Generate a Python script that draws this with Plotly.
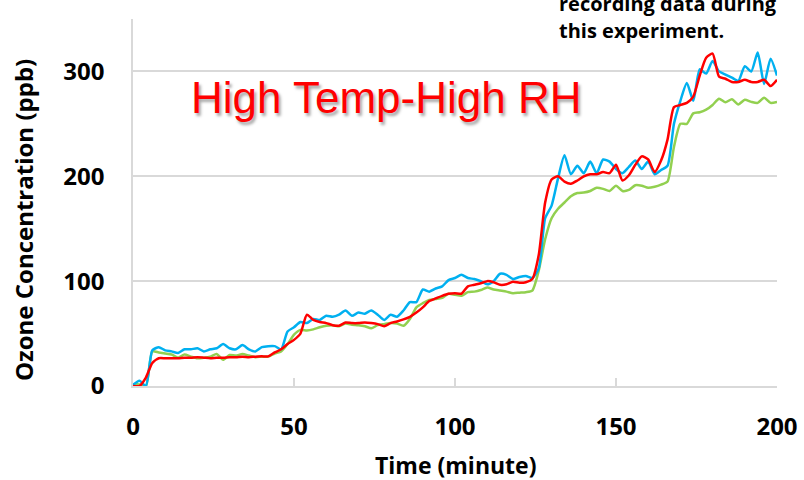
import plotly.graph_objects as go

time_min = list(range(0, 201, 2))

blue_ppb = [1, 5, 0, 34, 37, 34, 33, 31.5, 35, 35, 36, 33, 35, 36, 40, 36, 35, 39, 35, 33,
            37, 38, 38, 35, 52, 56, 61, 60, 64, 63, 67, 66, 68, 72, 67, 70, 69, 72, 68, 63,
            68, 66, 72, 80, 80, 92, 90, 93, 95, 101, 103, 106, 103, 102, 100, 97, 100, 107, 106, 102,
            104, 105, 103, 112, 160, 172, 198, 220, 202, 210, 203, 214, 203, 216, 214, 207, 203, 209, 215, 207,
            214, 202, 206, 210, 250, 272, 289, 272, 302, 298, 310, 300, 297, 294, 291, 305, 300, 318, 288, 312,
            296]

red_ppb = [0, 0, 8, 22, 26.5, 26.5, 26.5, 26.5, 27, 27, 27.5, 27, 26.5, 27, 27, 27.5, 27.5, 28, 27.5, 28,
           28.3, 28.3, 32, 35, 40, 44, 50, 68, 63, 61, 60, 58, 57.5, 60.5, 60, 60, 60.5, 60, 59, 57,
           60, 61.5, 63.5, 66, 70, 75, 81, 83.5, 86, 88, 88.5, 88, 95, 96.5, 98, 100, 99, 96.5, 97, 99.5,
           98.5, 99, 102, 125, 175, 197, 200, 195, 193, 196, 200, 202, 202, 204, 203, 211, 196, 201, 211, 219,
           216, 204, 215, 235, 266, 268, 270, 276, 296, 313, 317, 295, 293, 290, 290, 292, 290, 290, 292, 286,
           292]

green_ppb = [1.5, 1.5, 0, 33, 32, 31, 30, 27, 30, 28, 26.5, 27, 28, 30.5, 25, 29.5, 29, 30.5, 29, 27.5,
             28, 28, 31, 33, 40, 49, 53.5, 53, 54, 56, 57.5, 58, 57, 59.5, 58.5, 58, 57, 55, 58, 59,
             60, 59.5, 57.5, 64, 75, 79, 82, 83, 84, 88, 87, 86, 89.5, 90, 91.5, 94, 92, 91, 90, 88.5,
             89, 89.5, 91, 110, 140, 160, 169, 175, 181, 184, 184.5, 186, 189, 188, 186, 191, 186, 187, 191.5, 191,
             189, 190, 192, 195, 228, 250, 250, 260, 261, 263.5, 268, 274, 270.5, 273.5, 268.5, 273, 271, 270, 275, 270,
             271]

x_ticks = [0, 50, 100, 150, 200]
y_ticks = [0, 100, 200, 300]

title_text = "High Temp-High RH"
x_title = "Time (minute)"
y_title = "Ozone Concentration (ppb)"
note_lines = ["recording data during", "this experiment."]

FONT = "Open Sans"
GRID = "#d9d9d9"

fig = go.Figure()
for vals, col in [(green_ppb, "#92D050"), (blue_ppb, "#00B0F0"), (red_ppb, "#FF0000")]:
    fig.add_trace(go.Scatter(x=time_min, y=vals, mode="lines",
                             line=dict(color=col, width=2.5, shape="spline", smoothing=0.6),
                             showlegend=False, hoverinfo="skip"))

fig.update_layout(
    width=804, height=480,
    margin=dict(l=133, r=27, t=19, b=94, autoexpand=False),
    paper_bgcolor="white", plot_bgcolor="white",
    font=dict(family=FONT, color="black"),
    xaxis=dict(range=[0, 200], tickvals=x_ticks, showgrid=False, zeroline=False, automargin=False,
               showline=True, linecolor=GRID, linewidth=1.5,
               ticks="inside", ticklen=8, tickcolor=GRID, tickwidth=1.5,
               tickfont=dict(family=FONT, size=24, color="black", weight="bold"),
               ticklabelstandoff=18),
    yaxis=dict(range=[0, 350], tickvals=y_ticks, showgrid=True, gridcolor=GRID, gridwidth=1.5,
               zeroline=False, showline=True, linecolor=GRID, linewidth=1.5, ticks="", automargin=False,
               tickfont=dict(family=FONT, size=24, color="black", weight="bold"),
               ticklabelstandoff=22),
    annotations=[
        dict(text=x_title, xref="paper", yref="paper", x=0.5, y=-0.2153,
             xanchor="center", yanchor="middle", showarrow=False,
             font=dict(family=FONT, size=23, color="black", weight="bold")),
        dict(text=y_title, xref="paper", yref="paper", x=-0.1708, y=0.452, textangle=-90,
             xanchor="center", yanchor="middle", showarrow=False,
             font=dict(family=FONT, size=24, color="black", weight="bold")),
        dict(text=title_text, xref="paper", yref="paper", x=0.393, y=0.786,
             xanchor="center", yanchor="middle", showarrow=False,
             font=dict(family="Liberation Sans, Arial", size=44, color="#FF0000",
                       shadow="2px 3px 3px rgba(0,0,0,0.35)")),
        dict(text=note_lines[0], xref="paper", yref="paper", x=0.658, y=1.041,
             xanchor="left", yanchor="middle", showarrow=False,
             font=dict(family=FONT, size=20, color="black", weight="bold")),
        dict(text=note_lines[1], xref="paper", yref="paper", x=0.658, y=0.970,
             xanchor="left", yanchor="middle", showarrow=False,
             font=dict(family=FONT, size=20, color="black", weight="bold")),
    ],
)

fig.write_html("out.html", config={"displayModeBar": False},
               post_script="document.body.style.margin='0px';")
